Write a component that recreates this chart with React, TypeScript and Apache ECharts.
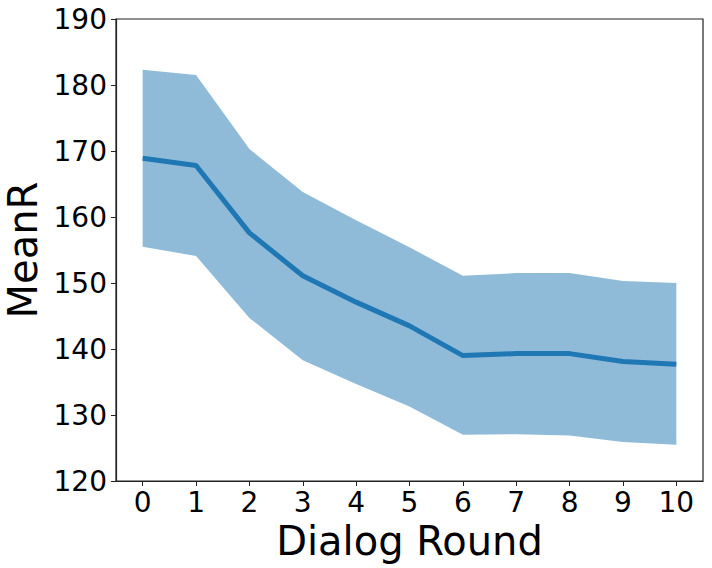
import React, { useEffect, useRef } from "react";
import * as echarts from "echarts";

const rounds = ["0", "1", "2", "3", "4", "5", "6", "7", "8", "9", "10"];
const meanR = [168.9, 167.8, 157.6, 151.1, 147.1, 143.5, 139.0, 139.3, 139.3, 138.1, 137.7];
const upper = [182.3, 181.5, 170.3, 163.8, 159.5, 155.4, 151.1, 151.5, 151.5, 150.3, 150.0];
const lower = [155.5, 154.1, 144.7, 138.3, 134.7, 131.3, 127.0, 127.1, 126.9, 125.9, 125.5];

const FONT = "DejaVu Sans";

export default function App() {
  const ref = useRef<HTMLDivElement>(null);
  useEffect(() => {
    if (!ref.current) return;
    const chart = echarts.init(ref.current, undefined, { renderer: "svg" });
    const bandWidth = upper.map((u, i) => +(u - lower[i]).toFixed(2));
    chart.setOption({
      animation: false,
      backgroundColor: "#ffffff",
      grid: {
        left: 116,
        top: 19,
        right: 9,
        bottom: 87,
        show: true,
        borderColor: "#222",
        borderWidth: 1.2,
        backgroundColor: "transparent",
        containLabel: false,
        outerBoundsMode: "none",
      },
      xAxis: {
        type: "category",
        data: rounds,
        boundaryGap: true,
        name: "Dialog Round",
        nameLocation: "middle",
        nameGap: 36,
        nameTextStyle: { fontFamily: FONT, fontSize: 40, color: "#000" },
        axisLine: { show: true, lineStyle: { color: "#222", width: 1.2 } },
        axisTick: { show: true, alignWithLabel: true, length: 5, lineStyle: { color: "#222", width: 1 } },
        axisLabel: { fontFamily: FONT, fontSize: 28, color: "#000", margin: 7, interval: 0 },
        splitLine: { show: false },
      },
      yAxis: {
        type: "value",
        min: 120,
        max: 190,
        interval: 10,
        name: "MeanR",
        nameLocation: "middle",
        nameGap: 70,
        nameRotate: 90,
        nameTextStyle: { fontFamily: FONT, fontSize: 40, color: "#000" },
        axisLine: { show: true, lineStyle: { color: "#222", width: 1.2 } },
        axisTick: { show: true, length: 5, lineStyle: { color: "#222", width: 1 } },
        axisLabel: { fontFamily: FONT, fontSize: 28, color: "#000", margin: 9 },
        splitLine: { show: false },
      },
      series: [
        {
          type: "line",
          data: lower,
          stack: "band",
          symbol: "none",
          lineStyle: { opacity: 0 },
          silent: true,
        },
        {
          type: "line",
          data: bandWidth,
          stack: "band",
          symbol: "none",
          lineStyle: { opacity: 0 },
          areaStyle: { color: "#1f77b4", opacity: 0.5 },
          silent: true,
        },
        {
          type: "line",
          data: meanR,
          symbol: "none",
          lineStyle: { color: "#1f77b4", width: 5 },
          z: 5,
        },
      ],
    });
    return () => chart.dispose();
  }, []);
  return (
    <div
      ref={ref}
      style={{ position: "fixed", left: 0, top: 0, width: 712, height: 568 }}
    />
  );
}
